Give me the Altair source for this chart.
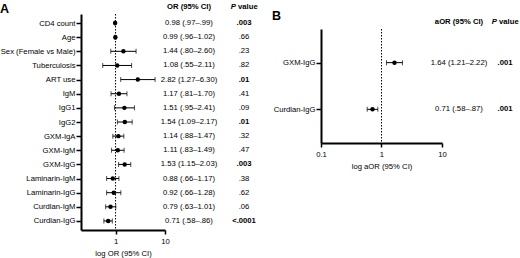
import altair as alt
import pandas as pd

FONT = "Liberation Sans"
FS = 7.7

# ---------------- Panel A data ----------------
a_labels = ["CD4 count", "Age", "Sex (Female vs Male)", "Tuberculosis", "ART use",
            "IgM", "IgG1", "IgG2", "GXM-IgA", "GXM-IgM", "GXM-IgG",
            "Laminarin-IgM", "Laminarin-IgG", "Curdlan-IgM", "Curdlan-IgG"]
a_or = [0.98, 0.99, 1.44, 1.08, 2.82, 1.17, 1.51, 1.54, 1.14, 1.11, 1.53, 0.88, 0.92, 0.79, 0.71]
a_lo = [0.97, 0.96, 0.80, 0.55, 1.27, 0.81, 0.95, 1.09, 0.88, 0.83, 1.15, 0.66, 0.66, 0.63, 0.58]
a_hi = [0.99, 1.02, 2.60, 2.11, 6.30, 1.70, 2.41, 2.17, 1.47, 1.49, 2.03, 1.17, 1.28, 1.01, 0.86]
a_ci_text = ["0.98 (.97–.99)", "0.99 (.96–1.02)", "1.44 (.80–2.60)", "1.08 (.55–2.11)",
             "2.82 (1.27–6.30)", "1.17 (.81–1.70)", "1.51 (.95–2.41)", "1.54 (1.09–2.17)",
             "1.14 (.88–1.47)", "1.11 (.83–1.49)", "1.53 (1.15–2.03)", "0.88 (.66–1.17)",
             "0.92 (.66–1.28)", "0.79 (.63–1.01)", "0.71 (.58–.86)"]
a_p = [".003", ".66", ".23", ".82", ".01", ".41", ".09", ".01", ".32", ".47", ".003",
       ".38", ".62", ".06", "<.0001"]
a_sig = [True, False, False, False, True, False, False, True, False, False, True,
         False, False, False, True]

# ---------------- Panel B data ----------------
b_labels = ["GXM-IgG", "Curdlan-IgG"]
b_or = [1.64, 0.71]
b_lo = [1.21, 0.58]
b_hi = [2.22, 0.87]
b_ci_text = ["1.64 (1.21–2.22)", "0.71 (.58–.87)"]
b_p = [".001", ".001"]
b_sig = [True, True]

panel_letters = ["A", "B"]
a_ci_header = ["OR (95% CI)"]
b_ci_header = ["aOR (95% CI)"]
p_header_italic = ["P"]
p_header_rest = ["value"]
a_xtitle = "log OR (95% CI)"
b_xtitle = "log aOR (95% CI)"
a_ticks = [1, 10]
b_ticks = [0.1, 1, 10]

dfa = pd.DataFrame({"label": a_labels, "or": a_or, "lo": a_lo, "hi": a_hi,
                    "ci": a_ci_text, "p": a_p, "sig": a_sig})
dfb = pd.DataFrame({"label": b_labels, "or": b_or, "lo": b_lo, "hi": b_hi,
                    "ci": b_ci_text, "p": b_p, "sig": b_sig})


def yscale(pad, rng):
    return alt.Scale(type="point", padding=pad, range=rng)


def yenc(labels, pad, rng, show_axis=True):
    if show_axis:
        ax = alt.Axis(title=None, labelFont=FONT, labelFontSize=FS, labelColor="black",
                      tickSize=5, tickWidth=1.5, tickColor="black", domainWidth=2,
                      domainColor="black", labelPadding=1, grid=False)
    else:
        ax = None
    return alt.Y("label:N", sort=labels, scale=yscale(pad, rng), axis=ax)


def forest(df, labels, pad, rng, domain, ticks, xtitle, w, h, letter, letter_dx, letter_dy):
    xscale = alt.Scale(type="log", domain=domain)
    xaxis = alt.Axis(values=ticks, format="~g", title=xtitle, titleFont=FONT,
                     titleFontSize=FS, titleFontWeight="normal", titleColor="black",
                     titlePadding=4.5, labelFont=FONT, labelFontSize=FS, labelColor="black",
                     labelPadding=3.5, tickSize=4, tickWidth=1.5, tickColor="black",
                     domainWidth=2, domainColor="black", grid=False, labelFlush=False)
    y = yenc(labels, pad, rng)
    ref = alt.Chart(pd.DataFrame({"v": [1]})).mark_rule(
        color="black", strokeDash=[1.5, 1.5], strokeWidth=1
    ).encode(x=alt.X("v:Q", scale=xscale, axis=xaxis),
             y=alt.value(rng[0]), y2=alt.value(rng[1]))
    base = alt.Chart(df)
    bars = base.mark_rule(color="black", strokeWidth=1).encode(
        x=alt.X("lo:Q", scale=xscale, axis=xaxis), x2="hi:Q", y=y)
    tlo = base.mark_tick(color="black", size=5, thickness=1, orient="vertical").encode(
        x=alt.X("lo:Q", scale=xscale, axis=xaxis), y=y)
    thi = base.mark_tick(color="black", size=5, thickness=1, orient="vertical").encode(
        x=alt.X("hi:Q", scale=xscale, axis=xaxis), y=y)
    pts = base.mark_point(filled=True, color="black", opacity=1, size=20).encode(
        x=alt.X("or:Q", scale=xscale, axis=xaxis), y=y)
    lt = alt.Chart(pd.DataFrame({"t": [letter]})).mark_text(
        font=FONT, fontSize=12.5, fontWeight="bold", color="black",
        align="left", baseline="middle"
    ).encode(text="t:N", x=alt.value(letter_dx), y=alt.value(letter_dy))
    return alt.layer(ref, bars, tlo, thi, pts, lt).properties(width=w, height=h)


def header(text, center, dy):
    return alt.Chart(pd.DataFrame({"t": text})).mark_text(
        font=FONT, fontSize=FS, fontWeight="bold", color="black",
        align="center", baseline="middle"
    ).encode(text="t:N", x=alt.value(center), y=alt.value(dy))


def p_header(center, dy):
    p = alt.Chart(pd.DataFrame({"t": p_header_italic})).mark_text(
        font=FONT, fontSize=FS, fontWeight="bold", fontStyle="italic", color="black",
        align="right", baseline="middle"
    ).encode(text="t:N", x=alt.value(center - 8.0), y=alt.value(dy))
    v = alt.Chart(pd.DataFrame({"t": p_header_rest})).mark_text(
        font=FONT, fontSize=FS, fontWeight="bold", color="black",
        align="left", baseline="middle"
    ).encode(text="t:N", x=alt.value(center - 6.0), y=alt.value(dy))
    return [p, v]


def ci_col(df, labels, pad, rng, w, h, center, head, hdy):
    t = alt.Chart(df).mark_text(font=FONT, fontSize=FS, color="black",
                                align="center", baseline="middle").encode(
        y=yenc(labels, pad, rng, False), x=alt.value(center), text="ci:N")
    return alt.layer(t, header(head, center, hdy)).properties(width=w, height=h)


def p_col(df, labels, pad, rng, w, h, center, hdy):
    y = yenc(labels, pad, rng, False)
    norm = alt.Chart(df).transform_filter("!datum.sig").mark_text(
        font=FONT, fontSize=FS, color="black", align="center", baseline="middle"
    ).encode(y=y, x=alt.value(center), text="p:N")
    bold = alt.Chart(df).transform_filter("datum.sig").mark_text(
        font=FONT, fontSize=FS, fontWeight="bold", color="black",
        align="center", baseline="middle"
    ).encode(y=y, x=alt.value(center), text="p:N")
    return alt.layer(norm, bold, *p_header(center, hdy)).properties(width=w, height=h)


# Panel A: plot area 216 tall
A_H = 216
A_PAD = 0.64
A_RNG = [0, A_H]
a_plot = forest(dfa, a_labels, A_PAD, A_RNG, [0.2, 10], a_ticks, a_xtitle, 84, A_H,
                panel_letters[0], -81, -5)
a_ci = ci_col(dfa, a_labels, A_PAD, A_RNG, 48, A_H, 24, a_ci_header, -7.5)
a_pc = p_col(dfa, a_labels, A_PAD, A_RNG, 108, A_H, 31, -7.5)

# Panel B: cell 129 tall, category range starts 15 px lower
B_H = 129
B_PAD = 0.72
B_RNG = [15, 129]
b_plot = forest(dfb, b_labels, B_PAD, B_RNG, [0.1, 10], b_ticks, b_xtitle, 121, B_H,
                panel_letters[1], -49, 2)
b_ci = ci_col(dfb, b_labels, B_PAD, B_RNG, 34, B_H, 17, b_ci_header, 7.5)
b_pc = p_col(dfb, b_labels, B_PAD, B_RNG, 40, B_H, 29, 7.5)

chart = alt.hconcat(a_plot, a_ci, a_pc, b_plot, b_ci, b_pc, spacing=0, bounds="flush").properties(
    padding={"left": 0, "top": 2, "right": 0, "bottom": 0}
).configure_view(stroke=None)

chart.save("out.html", embed_options={"renderer": "svg", "actions": False})
